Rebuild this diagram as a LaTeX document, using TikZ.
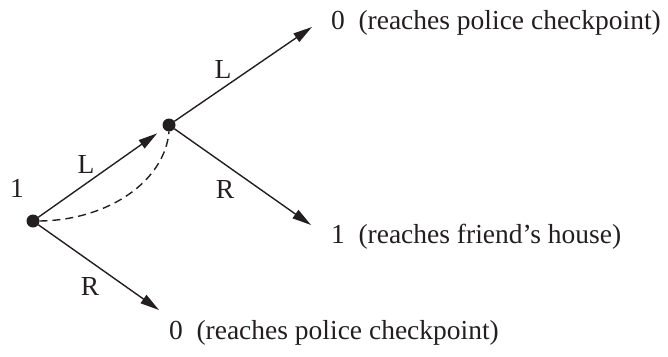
\documentclass[tikz,border=0pt]{standalone}
\usepackage{fontspec}
\setmainfont{Liberation Serif}
\usetikzlibrary{arrows.meta}
\definecolor{ink}{HTML}{231F20}
\begin{document}
\begin{tikzpicture}[x=1pt,y=-1pt,
  every node/.style={inner sep=0pt,outer sep=0pt,text=ink,font=\fontsize{27.5}{30}\selectfont},
  dot/.style={circle,fill=ink,minimum size=13pt,inner sep=0pt},
  arr/.style={draw=ink,line width=1.4pt,-{Triangle[length=19pt,width=10pt]}},
  dashline/.style={draw=ink,line width=1.4pt,dash pattern=on 8pt off 5pt}]
\useasboundingbox (0,0) rectangle (668,356);
\node[dot] (A) at (33,221) {};
\node[dot] (B) at (169,125) {};
\coordinate (E1) at (312,27);
\coordinate (E2) at (311,225);
\coordinate (E3) at (159,310);
\draw[arr,shorten >=8pt] (A) -- (B);
\draw[arr] (B) -- (E1);
\draw[arr] (B) -- (E2);
\draw[arr] (A) -- (E3);
\draw[dashline] (A.east) .. controls (110,220) and (165,180) .. (B.south);
\node[anchor=base] (n1) at (17,197) {1};
\node[anchor=base] (lL1) at (86,173) {L};
\node[anchor=base] (lL2) at (223,78) {L};
\node[anchor=base] (lR1) at (225,198) {R};
\node[anchor=base] (lR2) at (90,295) {R};
\node[anchor=base west] (t1) at (331,29) {0\ \ (reaches police checkpoint)};
\node[anchor=base west] (t2) at (331,243) {1\ \ (reaches friend’s house)};
\node[anchor=base west] (t3) at (169,339) {0\ \ (reaches police checkpoint)};
\end{tikzpicture}
\end{document}
